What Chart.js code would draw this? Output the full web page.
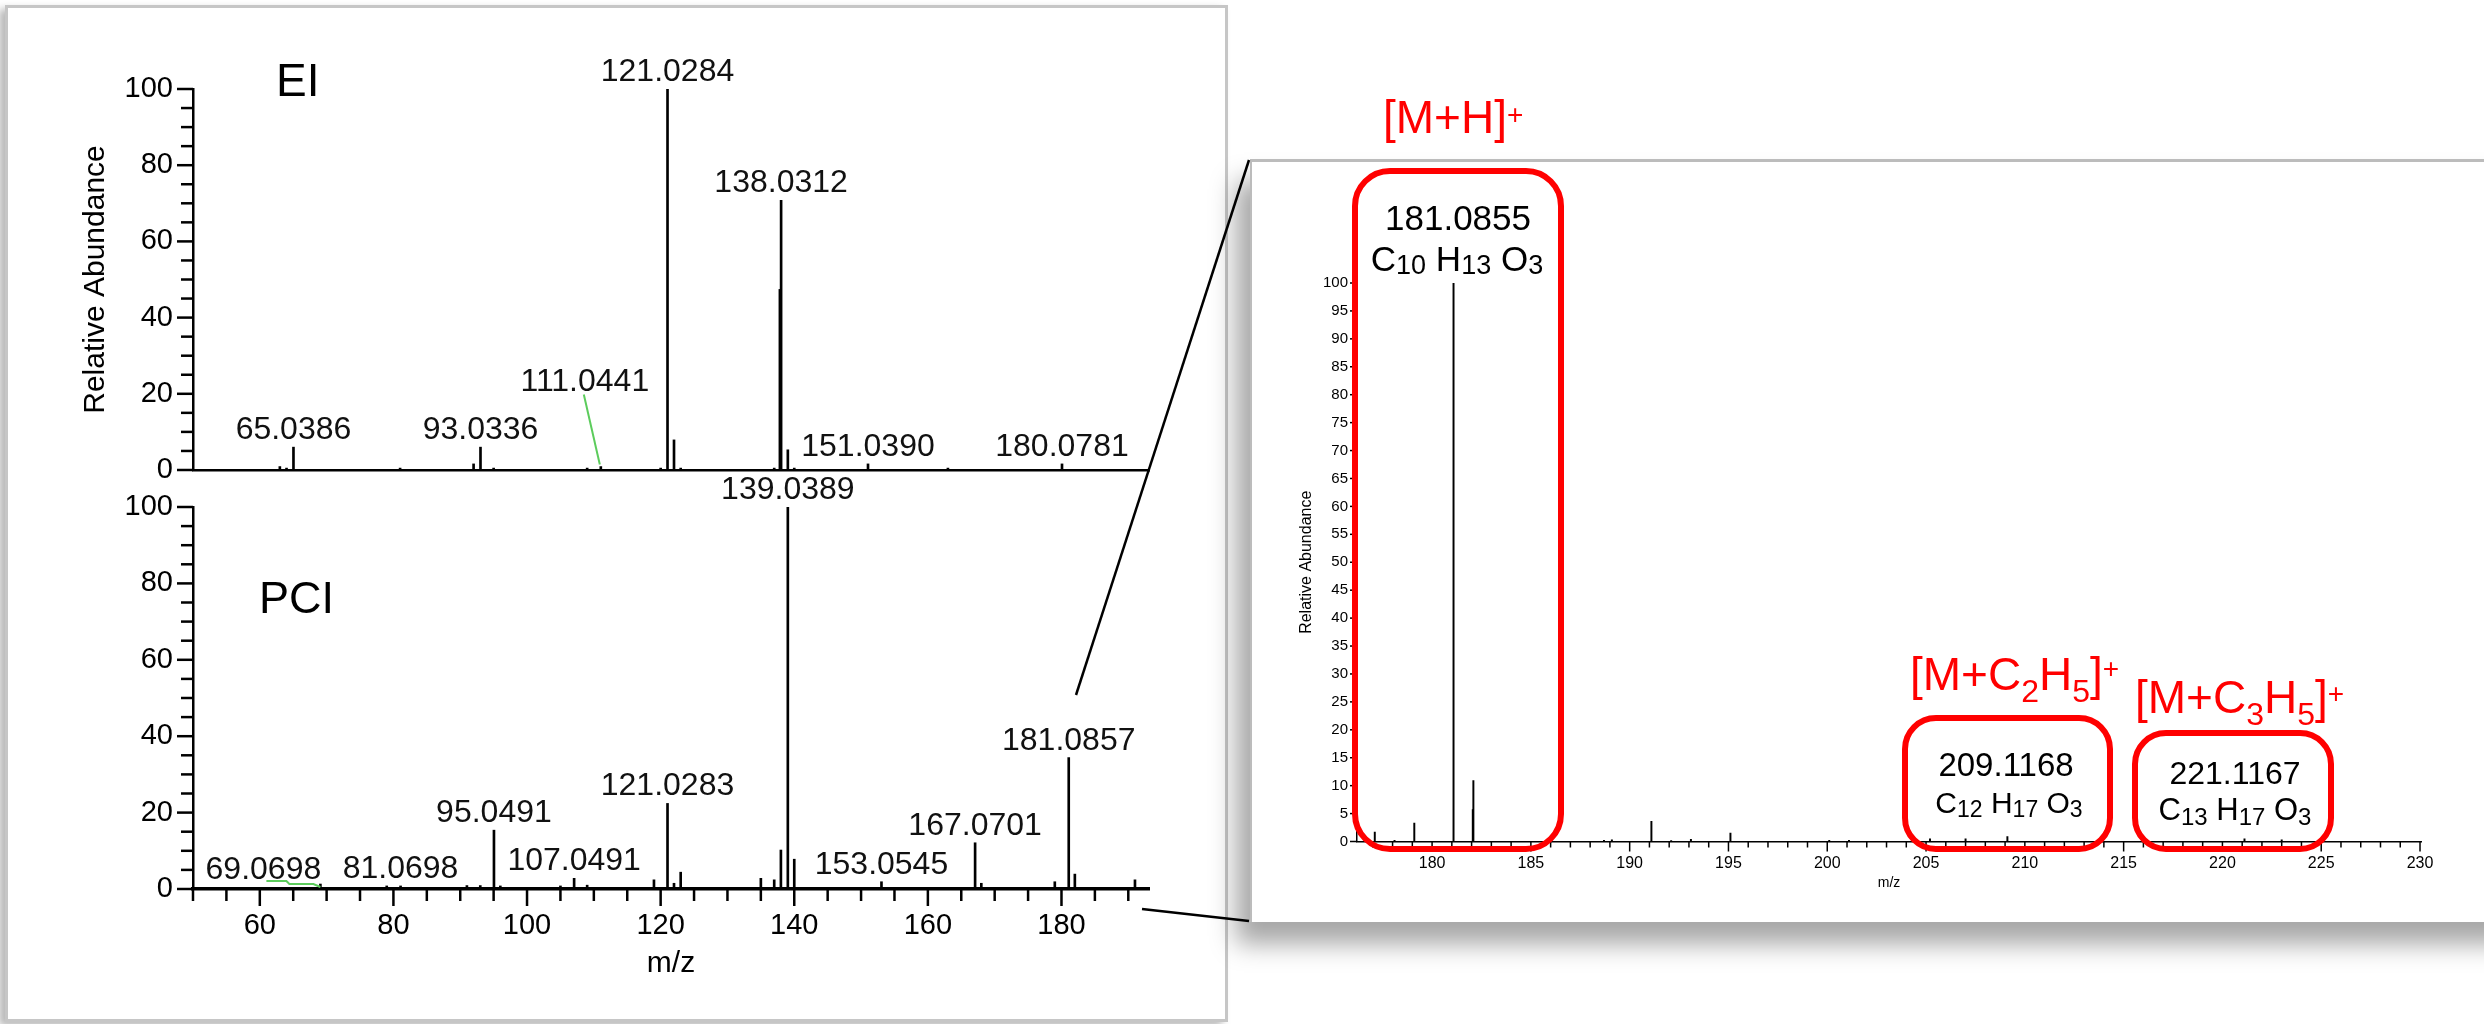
<!DOCTYPE html>
<html>
<head>
<meta charset="utf-8">
<script src="https://cdn.jsdelivr.net/npm/chart.js@4.4.1/dist/chart.umd.min.js"></script>
<style>
    html, body { margin: 0; padding: 0; background: #fff; width: 2484px; height: 1024px; overflow: hidden; font-family: "Liberation Sans", Arial, sans-serif; }
    .panel { position: absolute; box-sizing: border-box; background: #fff; }
    #leftPanel { left: 5px; top: 5px; width: 1223px; height: 1017px; border: 3px solid #c6c6c6; box-shadow: -6px 4px 8px rgba(0,0,0,0.28); z-index: 1; }
    #rightPanel { left: 1250px; top: 159px; width: 1300px; height: 763px; border-top: 3px solid #bcbcbc; border-left: 2px solid #bcbcbc; box-shadow: -14px 22px 24px rgba(0,0,0,0.35); z-index: 3; }
    canvas { position: absolute; }
    #eiChart { left: 0; top: 0; z-index: 2; }
    #pciChart { left: 0; top: 440px; z-index: 2; }
    #zoomChart { left: 1250px; top: 160px; z-index: 4; }
    .txt { position: absolute; white-space: nowrap; line-height: 1; color: #000; z-index: 5; }
    .mid { transform: translateX(-50%); }
    .red { color: #ff0000; font-size: 46px; }
    .box { position: absolute; box-sizing: border-box; border: 6px solid #ff0000; border-radius: 34px; z-index: 5; }
    #links { position: absolute; left: 0; top: 0; z-index: 6; }
</style>
</head>
<body>
<div id="leftPanel" class="panel"></div>
<canvas id="eiChart" width="1228" height="500"></canvas>
<canvas id="pciChart" width="1228" height="580"></canvas>
<div id="rightPanel" class="panel"></div>
<canvas id="zoomChart" width="1234" height="762"></canvas>

<div class="txt" style="left:276px; top:57px; font-size:46px;">EI</div>
<div class="txt" style="left:259px; top:575px; font-size:45px;">PCI</div>

<!-- zoomed spectrum annotations -->
<div class="box" style="left:1352px; top:168px; width:212px; height:684px; border-radius:38px;"></div>
<div class="box" style="left:1902px; top:715px; width:211px; height:137px;"></div>
<div class="box" style="left:2132px; top:730px; width:202px; height:122px;"></div>

<div class="txt red" style="left:1383px; top:94px;">[M+H]<span style="font-size:28px; vertical-align:9px;">+</span></div>
<div class="txt red" style="left:1910px; top:651px;">[M+C<span style="font-size:32px; vertical-align:-12px;">2</span>H<span style="font-size:32px; vertical-align:-12px;">5</span>]<span style="font-size:28px; vertical-align:12px;">+</span></div>
<div class="txt red" style="left:2135px; top:674px;">[M+C<span style="font-size:32px; vertical-align:-12px;">3</span>H<span style="font-size:32px; vertical-align:-12px;">5</span>]<span style="font-size:28px; vertical-align:10px;">+</span></div>

<div class="txt mid" style="left:1458px; top:200px; font-size:35px;">181.0855</div>
<div class="txt mid" style="left:1457px; top:241px; font-size:35px;">C<span style="font-size:27px; vertical-align:-3px;">10</span> H<span style="font-size:27px; vertical-align:-3px;">13</span> O<span style="font-size:27px; vertical-align:-3px;">3</span></div>
<div class="txt mid" style="left:2006px; top:748px; font-size:33px;">209.1168</div>
<div class="txt mid" style="left:2009px; top:788px; font-size:30px;">C<span style="font-size:23px; vertical-align:-4px;">12</span> H<span style="font-size:23px; vertical-align:-4px;">17</span> O<span style="font-size:23px; vertical-align:-4px;">3</span></div>
<div class="txt mid" style="left:2235px; top:757px; font-size:32px;">221.1167</div>
<div class="txt mid" style="left:2235px; top:794px; font-size:31px;">C<span style="font-size:24px; vertical-align:-5px;">13</span> H<span style="font-size:24px; vertical-align:-5px;">17</span> O<span style="font-size:24px; vertical-align:-5px;">3</span></div>

<!-- lines from the PCI spectrum to the zoomed panel -->
<svg id="links" width="2484" height="1024">
    <line x1="1076" y1="695" x2="1249" y2="160" stroke="#000" stroke-width="2.5"/>
    <line x1="1142" y1="909" x2="1249" y2="921" stroke="#000" stroke-width="2.5"/>
</svg>

<script>
// EI spectrum
const eiMz = [63.0, 64.0, 65.0386, 81.0, 92.0, 93.0336, 95.0, 109.0, 111.0441, 120.0, 121.0284, 122.0, 123.0, 137.0, 137.85, 138.0312, 139.0389, 140.0, 151.0390, 163.0, 180.0781];
const eiAbund = [0.9, 0.5, 6.0, 0.5, 1.6, 6.0, 0.5, 0.5, 0.9, 0.5, 100, 7.9, 0.5, 0.5, 47.4, 70.8, 5.3, 0.5, 1.6, 0.5, 1.6];
const eiLabels = ['65.0386', '93.0336', '111.0441', '121.0284', '138.0312', '151.0390', '180.0781'];

// PCI spectrum
const pciMz = [69.0698, 79.0, 81.0698, 91.0, 93.0, 95.0491, 96.0, 105.0, 107.0491, 109.0, 119.0, 121.0283, 122.0, 123.0, 135.0, 137.0, 138.0, 139.0389, 140.0, 153.0545, 167.0701, 168.0, 179.0, 181.0857, 182.0, 191.0];
const pciAbund = [1.3, 0.8, 0.8, 0.9, 0.9, 15.4, 0.8, 0.8, 2.8, 1.0, 2.4, 22.4, 1.5, 4.4, 2.8, 2.4, 10.2, 100, 7.8, 1.9, 12.1, 1.5, 1.9, 34.4, 3.9, 2.4];
const pciLabels = ['69.0698', '81.0698', '95.0491', '107.0491', '121.0283', '139.0389', '153.0545', '167.0701', '181.0857'];

// zoomed PCI spectrum 176-230
const zoomMz = [177.1, 178.1, 179.1, 181.0855, 182.06, 182.09, 188.7, 189.1, 191.1, 192.1, 193.1, 195.1, 200.1, 201.1, 205.2, 207.0, 209.1168, 221.1167, 223.0];
const zoomAbund = [1.7, 0.2, 3.3, 100, 5.7, 10.9, 0.2, 0.3, 3.6, 0.15, 0.4, 1.5, 0.2, 0.2, 0.5, 0.5, 0.9, 0.5, 0.3];

// axis ticks
const abundTicks = [0, 5, 10, 15, 20, 25, 30, 35, 40, 45, 50, 55, 60, 65, 70, 75, 80, 85, 90, 95, 100];
const abundLabels = [0, 20, 40, 60, 80, 100];
const mzTicks = [50, 55, 60, 65, 70, 75, 80, 85, 90, 95, 100, 105, 110, 115, 120, 125, 130, 135, 140, 145, 150, 155, 160, 165, 170, 175, 180, 185, 190];
const mzLabels = [60, 80, 100, 120, 140, 160, 180];
const zoomMzTicks = [177, 178, 179, 180, 181, 182, 183, 184, 185, 186, 187, 188, 189, 190, 191, 192, 193, 194, 195, 196, 197, 198, 199, 200, 201, 202, 203, 204, 205, 206, 207, 208, 209, 210, 211, 212, 213, 214, 215, 216, 217, 218, 219, 220, 221, 222, 223, 224, 225, 226, 227, 228, 229, 230];
const zoomMzLabels = [180, 185, 190, 195, 200, 205, 210, 215, 220, 225, 230];

const FONT = '"Liberation Sans", Arial, sans-serif';

function toPoints(xs, ys) {
    return xs.map((x, i) => ({ x: x, y: ys[i] }));
}

function setTicks(list) {
    return (scale) => { scale.ticks = list.map(v => ({ value: v })); };
}

// tick marks with two lengths (major / minor)
function tickMarks(specs) {
    return {
        id: 'tickMarks',
        afterDraw(chart) {
            const ctx = chart.ctx;
            ctx.save();
            ctx.strokeStyle = '#000';
            Object.keys(specs).forEach(id => {
                const s = chart.scales[id];
                const o = specs[id];
                ctx.lineWidth = o.width;
                s.ticks.forEach(t => {
                    const len = o.major.includes(t.value) ? o.long : o.short;
                    const p = s.getPixelForValue(t.value);
                    ctx.beginPath();
                    if (s.isHorizontal()) {
                        ctx.moveTo(p, s.top);
                        ctx.lineTo(p, s.top + len);
                    } else {
                        ctx.moveTo(s.right, p);
                        ctx.lineTo(s.right - len, p);
                    }
                    ctx.stroke();
                });
            });
            ctx.restore();
        }
    };
}

// m/z labels over the peaks, some moved aside with a green leader
function peakLabels(texts, moved) {
    return {
        id: 'peakLabels',
        afterDatasetsDraw(chart) {
            const { ctx, scales: { x, y } } = chart;
            const pts = chart.data.datasets[0].data;
            ctx.save();
            ctx.font = '32px ' + FONT;
            ctx.textAlign = 'center';
            ctx.textBaseline = 'alphabetic';
            texts.forEach(t => {
                const mz = parseFloat(t);
                const pt = pts.find(d => Math.abs(d.x - mz) < 1e-6);
                const px = x.getPixelForValue(mz);
                const py = y.getPixelForValue(pt ? pt.y : 0);
                const m = moved[t];
                if (m) {
                    ctx.strokeStyle = '#5ccc5c';
                    ctx.lineWidth = 2;
                    ctx.beginPath();
                    m.leader.forEach((p, i) => {
                        if (i === 0) ctx.moveTo(px + p[0], py + p[1]);
                        else ctx.lineTo(px + p[0], py + p[1]);
                    });
                    ctx.stroke();
                    ctx.fillStyle = '#111';
                    ctx.fillText(t, px + m.dx, py + m.dy);
                } else {
                    ctx.fillStyle = '#111';
                    ctx.fillText(t, px, py - 8);
                }
            });
            ctx.restore();
        }
    };
}

const baseOptions = {
    responsive: false,
    animation: false,
    devicePixelRatio: 1,
    events: []
};

// EI
new Chart(document.getElementById('eiChart'), {
    type: 'bar',
    data: {
        datasets: [{ data: toPoints(eiMz, eiAbund), backgroundColor: '#000', barThickness: 2, borderWidth: 0 }]
    },
    options: Object.assign({}, baseOptions, {
        layout: { padding: { left: 74, right: 79, top: 89, bottom: 0 } },
        plugins: { legend: { display: false }, tooltip: { enabled: false } },
        scales: {
            x: {
                type: 'linear', min: 50, max: 193.1, offset: false,
                afterFit: (s) => { s.height = 30; },
                ticks: { display: false },
                grid: { display: false },
                border: { display: true, color: '#000', width: 2.5 }
            },
            y: {
                min: 0, max: 100,
                afterFit: (s) => { s.width = 119; },
                afterBuildTicks: setTicks(abundTicks),
                ticks: { autoSkip: false, color: '#000', padding: 4, font: { family: FONT, size: 29 },
                    callback: v => abundLabels.includes(v) ? String(v) : '' },
                grid: { display: false, drawTicks: true, tickLength: 16 },
                border: { display: true, color: '#000', width: 2.5 },
                title: { display: true, text: 'Relative Abundance', color: '#000', font: { family: FONT, size: 30 }, padding: { top: 4, bottom: 4 } }
            }
        }
    }),
    plugins: [
        tickMarks({ y: { major: abundLabels, long: 16, short: 12, width: 2.5 } }),
        peakLabels(eiLabels, { '111.0441': { dx: -16, dy: -76, leader: [[-17, -72], [-1, -2]] } })
    ]
});

// PCI
new Chart(document.getElementById('pciChart'), {
    type: 'bar',
    data: {
        datasets: [{ data: toPoints(pciMz, pciAbund), backgroundColor: '#000', barThickness: 2, borderWidth: 0 }]
    },
    options: Object.assign({}, baseOptions, {
        layout: { padding: { left: 74, right: 79, top: 67, bottom: 34 } },
        plugins: { legend: { display: false }, tooltip: { enabled: false } },
        scales: {
            x: {
                type: 'linear', min: 50, max: 193.1, offset: false,
                afterFit: (s) => { s.height = 97; },
                afterBuildTicks: setTicks(mzTicks),
                ticks: { autoSkip: false, maxRotation: 0, color: '#000', padding: 3, font: { family: FONT, size: 29 },
                    callback: v => mzLabels.includes(v) ? String(v) : '' },
                grid: { display: false, drawTicks: true, tickLength: 17 },
                border: { display: true, color: '#000', width: 3.5 },
                title: { display: true, text: 'm/z', color: '#000', font: { family: FONT, size: 30 }, padding: { top: 4, bottom: 4 } }
            },
            y: {
                min: 0, max: 100,
                afterFit: (s) => { s.width = 119; },
                afterBuildTicks: setTicks(abundTicks),
                ticks: { autoSkip: false, color: '#000', padding: 4, font: { family: FONT, size: 29 },
                    callback: v => abundLabels.includes(v) ? String(v) : '' },
                grid: { display: false, drawTicks: true, tickLength: 16 },
                border: { display: true, color: '#000', width: 2.5 }
            }
        }
    }),
    plugins: [
        tickMarks({
            x: { major: mzLabels, long: 17, short: 12, width: 2.5 },
            y: { major: abundLabels, long: 16, short: 12, width: 2.5 }
        }),
        peakLabels(pciLabels, { '69.0698': { dx: -57, dy: -5.5, leader: [[-54, -3], [-34, -3], [-31, 0], [-7, 0], [0, 3]] } })
    ]
});

// zoomed PCI
new Chart(document.getElementById('zoomChart'), {
    type: 'bar',
    data: {
        datasets: [{ data: toPoints(zoomMz, zoomAbund), backgroundColor: '#000', barThickness: 1.3, borderWidth: 0 }]
    },
    options: Object.assign({}, baseOptions, {
        layout: { padding: { left: 43, right: 63, top: 123, bottom: 28.5 } },
        plugins: { legend: { display: false }, tooltip: { enabled: false } },
        scales: {
            x: {
                type: 'linear', min: 176.2, max: 230.05, offset: false,
                afterFit: (s) => { s.height = 52; },
                afterBuildTicks: setTicks(zoomMzTicks),
                ticks: { autoSkip: false, maxRotation: 0, color: '#000', padding: 2, font: { family: FONT, size: 16 },
                    callback: v => zoomMzLabels.includes(v) ? String(v) : '' },
                grid: { display: false, drawTicks: true, tickLength: 10 },
                border: { display: true, color: '#000', width: 1.5 },
                title: { display: true, text: 'm/z', color: '#000', font: { family: FONT, size: 14 }, padding: { top: 0, bottom: 2 } }
            },
            y: {
                min: 0, max: 100,
                afterFit: (s) => { s.width = 64; },
                afterBuildTicks: setTicks(abundTicks),
                ticks: { autoSkip: false, color: '#000', padding: 3, font: { family: FONT, size: 15 } },
                grid: { display: false, drawTicks: true, tickLength: 6 },
                border: { display: true, color: '#000', width: 1.5 },
                title: { display: true, text: 'Relative Abundance', color: '#000', font: { family: FONT, size: 16 }, padding: { top: 4, bottom: 4 } }
            }
        }
    }),
    plugins: [
        tickMarks({
            x: { major: zoomMzLabels, long: 10, short: 6, width: 1.5 },
            y: { major: abundTicks, long: 7, short: 7, width: 1.5 }
        })
    ]
});
</script>
</body>
</html>
